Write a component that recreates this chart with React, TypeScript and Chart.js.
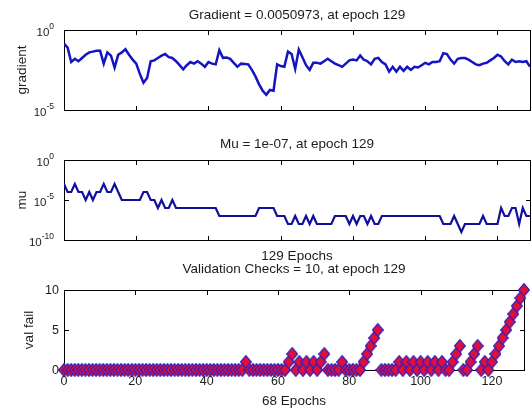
import { useEffect, useRef } from 'react';
import { Chart, registerables } from 'chart.js';

Chart.register(...registerables);

// ---------- data ----------
const epochs: number[] = Array.from({ length: 130 }, (_, i) => i);

const gradient: number[] = [
  0.141, 0.079, 0.01, 0.0158, 0.0112, 0.0178, 0.0282, 0.0398, 0.0447, 0.0501,
  0.0501, 0.0079, 0.0398, 0.0251, 0.0045, 0.0282, 0.0398, 0.0631, 0.0282, 0.0141,
  0.0079, 0.0018, 0.0005, 0.001, 0.0112, 0.0126, 0.0178, 0.0251, 0.0316, 0.02,
  0.0178, 0.0112, 0.0063, 0.0035, 0.0063, 0.01, 0.0079, 0.0112, 0.0079, 0.005,
  0.01, 0.0079, 0.0071, 0.055, 0.0182, 0.019, 0.0158, 0.0089, 0.005, 0.0079,
  0.0076, 0.0071, 0.0032, 0.00126, 0.0004, 0.00016, 0.000089, 0.00018, 0.00016, 0.0071,
  0.0056, 0.005, 0.0447, 0.0316, 0.0037, 0.06, 0.02, 0.0063, 0.0032, 0.0089,
  0.0089, 0.0079, 0.0112, 0.0158, 0.0112, 0.0079, 0.0063, 0.005, 0.0079, 0.0126,
  0.0141, 0.0126, 0.0251, 0.0138, 0.0112, 0.0071, 0.0158, 0.0182, 0.01, 0.0071,
  0.0025, 0.005, 0.0025, 0.005, 0.0028, 0.005, 0.0032, 0.005, 0.0045, 0.0063,
  0.0089, 0.0071, 0.01, 0.01, 0.0112, 0.0355, 0.0316, 0.0141, 0.0079, 0.0158,
  0.0178, 0.0178, 0.0141, 0.01, 0.0071, 0.0063, 0.0079, 0.0089, 0.0126, 0.0178,
  0.0282, 0.0224, 0.0112, 0.0071, 0.0141, 0.01, 0.0112, 0.01, 0.0112, 0.0050973,
];

const mu: number[] = [
  1e-3, 1e-4, 1e-4, 1e-3, 1e-4, 1e-4, 1e-5, 1e-4, 1e-5, 1e-4,
  1e-4, 1e-3, 1e-4, 1e-4, 1e-3, 1e-4, 1e-5, 1e-5, 1e-5, 1e-5,
  1e-5, 1e-5, 1e-4, 1e-4, 1e-5, 1e-5, 1e-6, 1e-5, 1e-6, 1e-6,
  1e-5, 1e-6, 1e-6, 1e-6, 1e-6, 1e-6, 1e-6, 1e-6, 1e-6, 1e-6,
  1e-6, 1e-6, 1e-6, 1e-7, 1e-7, 1e-7, 1e-7, 1e-7, 1e-7, 1e-7,
  1e-7, 1e-7, 1e-7, 1e-7, 1e-6, 1e-6, 1e-6, 1e-6, 1e-6, 1e-7,
  1e-7, 1e-7, 1e-8, 1e-8, 1e-7, 1e-8, 1e-8, 1e-7, 1e-8, 1e-7,
  1e-8, 1e-8, 1e-8, 1e-8, 1e-8, 1e-7, 1e-7, 1e-7, 1e-7, 1e-8,
  1e-7, 1e-8, 1e-7, 1e-7, 1e-8, 1e-7, 1e-8, 1e-8, 1e-7, 1e-7,
  1e-7, 1e-7, 1e-7, 1e-7, 1e-7, 1e-7, 1e-7, 1e-7, 1e-7, 1e-7,
  1e-7, 1e-7, 1e-7, 1e-7, 1e-7, 1e-8, 1e-8, 1e-8, 1e-7, 1e-8,
  1e-9, 1e-8, 1e-8, 1e-8, 1e-8, 1e-8, 1e-7, 1e-8, 1e-8, 1e-8,
  1e-8, 1e-6, 1e-7, 1e-7, 1e-6, 1e-6, 1e-8, 1e-6, 1e-7, 1e-7,
];

const valFail: number[] = [
  0, 0, 0, 0, 0, 0, 0, 0, 0, 0,
  0, 0, 0, 0, 0, 0, 0, 0, 0, 0,
  0, 0, 0, 0, 0, 0, 0, 0, 0, 0,
  0, 0, 0, 0, 0, 0, 0, 0, 0, 0,
  0, 0, 0, 0, 0, 0, 0, 0, 0, 0,
  0, 1, 0, 0, 0, 0, 0, 0, 0, 0,
  0, 0, 0, 1, 2, 0, 1, 0, 1, 0,
  1, 0, 1, 2, 0, 0, 0, 0, 1, 0,
  0, 0, 0, 0, 1, 2, 3, 4, 5, 0,
  0, 0, 0, 0, 1, 0, 1, 0, 1, 0,
  1, 0, 1, 0, 1, 0, 1, 0, 0, 1,
  2, 3, 0, 0, 1, 2, 3, 0, 1, 0,
  1, 2, 3, 4, 5, 6, 7, 8, 9, 10,
];

const xTickValues: number[] = [0, 20, 40, 60, 80, 100, 120];
const xTickLabels: string[] = ['0', '20', '40', '60', '80', '100', '120'];

const gradTickValues: number[] = [1, 1e-5];
const gradTickExps: string[] = ['0', '-5'];
const muTickValues: number[] = [1, 1e-5, 1e-10];
const muTickExps: string[] = ['0', '-5', '-10'];
const valTickValues: number[] = [0, 5, 10];
const valTickLabels: string[] = ['0', '5', '10'];

const titles: string[] = [
  'Gradient = 0.0050973, at epoch 129',
  'Mu = 1e-07, at epoch 129',
  'Validation Checks = 10, at epoch 129',
];
const yLabels: string[] = ['gradient', 'mu', 'val fail'];
const xLabels: string[] = ['', '129 Epochs', '68 Epochs'];

// ---------- drawing helpers ----------
const FONT = "'Liberation Sans', Arial, Helvetica, sans-serif";
const TEXT = '#1c1c1c';

function diamondMarker(): HTMLCanvasElement {
  const c = document.createElement('canvas');
  c.width = 12;
  c.height = 14;
  const g = c.getContext('2d') as CanvasRenderingContext2D;
  g.beginPath();
  g.moveTo(6, 0.7);
  g.lineTo(11.3, 7);
  g.lineTo(6, 13.3);
  g.lineTo(0.7, 7);
  g.closePath();
  g.fillStyle = '#e30d3a';
  g.fill();
  g.strokeStyle = '#3a20b8';
  g.lineWidth = 1.3;
  g.stroke();
  return c;
}

type Decor = {
  title: string;
  titleY: number;
  yLabel: string;
  yLabelX: number;
  xLabel?: string;
  xLabelY?: number;
  yTicks: number[];
  yTickText?: string[];
  yTickExp?: string[];
  showXTickLabels?: boolean;
  xTickLabelY?: number;
};

function decorPlugin(d: Decor) {
  return {
    id: 'decor',
    beforeDatasetsDraw(chart: any) {
      const { ctx, chartArea: a, scales } = chart;
      ctx.save();
      ctx.strokeStyle = '#000';
      ctx.lineWidth = 1;
      ctx.strokeRect(a.left + 0.5, a.top + 0.5, a.right - a.left, a.bottom - a.top);
      const tl = 5;
      ctx.beginPath();
      xTickValues.forEach((v) => {
        const px = Math.round(scales.x.getPixelForValue(v)) + 0.5;
        ctx.moveTo(px, a.top);
        ctx.lineTo(px, a.top + tl);
        ctx.moveTo(px, a.bottom + 1);
        ctx.lineTo(px, a.bottom + 1 - tl);
      });
      d.yTicks.forEach((v) => {
        const py = Math.round(scales.y.getPixelForValue(v)) + 0.5;
        if (py < a.top + 2 || py > a.bottom - 1) return;
        ctx.moveTo(a.left, py);
        ctx.lineTo(a.left + tl, py);
        ctx.moveTo(a.right + 1, py);
        ctx.lineTo(a.right + 1 - tl, py);
      });
      ctx.stroke();
      ctx.restore();
    },
    afterDraw(chart: any) {
      const { ctx, chartArea: a, scales } = chart;
      ctx.save();
      ctx.fillStyle = TEXT;
      const cx = (a.left + a.right) / 2;
      ctx.font = `13.5px ${FONT}`;
      ctx.textAlign = 'center';
      ctx.textBaseline = 'alphabetic';
      ctx.fillText(d.title, cx, d.titleY);
      if (d.xLabel) ctx.fillText(d.xLabel, cx, d.xLabelY as number);
      ctx.save();
      ctx.translate(d.yLabelX, (a.top + a.bottom) / 2);
      ctx.rotate(-Math.PI / 2);
      ctx.textBaseline = 'middle';
      ctx.fillText(d.yLabel, 0, 0);
      ctx.restore();
      d.yTicks.forEach((v, i) => {
        const py = scales.y.getPixelForValue(v);
        if (d.yTickExp) {
          const exp = d.yTickExp[i];
          ctx.font = `8.5px ${FONT}`;
          const ew = ctx.measureText(exp).width;
          const right = 54;
          ctx.textAlign = 'left';
          ctx.textBaseline = 'middle';
          ctx.fillText(exp, right - ew, py - 3);
          ctx.font = `11.5px ${FONT}`;
          ctx.textAlign = 'right';
          ctx.fillText('10', right - ew, py + 3);
        } else if (d.yTickText) {
          ctx.font = `12.5px ${FONT}`;
          ctx.textAlign = 'right';
          ctx.textBaseline = 'middle';
          ctx.fillText(d.yTickText[i], 59, py + 1);
        }
      });
      if (d.showXTickLabels) {
        ctx.font = `12.5px ${FONT}`;
        ctx.textAlign = 'center';
        ctx.textBaseline = 'middle';
        xTickValues.forEach((v, i) => {
          ctx.fillText(xTickLabels[i], scales.x.getPixelForValue(v), d.xTickLabelY as number);
        });
      }
      ctx.restore();
    },
  };
}

function makeConfig(dataset: any, yScale: any, padBottom: number, decor: Decor): any {
  return {
    type: 'line',
    data: { datasets: [dataset] },
    options: {
      animation: false,
      responsive: false,
      devicePixelRatio: 1,
      layout: { padding: { left: 64, right: 1, top: 30, bottom: padBottom } },
      plugins: { legend: { display: false }, tooltip: { enabled: false }, title: { display: false } },
      scales: {
        x: { type: 'linear', min: 0, max: 129, display: false },
        y: { ...yScale, display: false },
      },
    },
    plugins: [decorPlugin(decor)],
  };
}

export default function App() {
  const c1 = useRef<HTMLCanvasElement>(null);
  const c2 = useRef<HTMLCanvasElement>(null);
  const c3 = useRef<HTMLCanvasElement>(null);

  useEffect(() => {
    const gradPts = epochs.map((e, i) => ({ x: e, y: gradient[i] }));
    const muPts = epochs.map((e, i) => ({ x: e, y: mu[i] }));
    const valPts = epochs.map((e, i) => ({ x: e, y: valFail[i] }));

    const ch1 = new Chart(
      c1.current as HTMLCanvasElement,
      makeConfig(
        { data: gradPts, borderColor: '#1414c0', borderWidth: 2.5, pointRadius: 0, tension: 0 },
        { type: 'logarithmic', min: 1e-5, max: 1 },
        20,
        {
          title: titles[0],
          titleY: 19,
          yLabel: yLabels[0],
          yLabelX: 22,
          yTicks: gradTickValues,
          yTickExp: gradTickExps,
        }
      )
    );
    const ch2 = new Chart(
      c2.current as HTMLCanvasElement,
      makeConfig(
        { data: muPts, borderColor: '#10109c', borderWidth: 2.2, pointRadius: 0, tension: 0 },
        { type: 'logarithmic', min: 1e-10, max: 1 },
        30,
        {
          title: titles[1],
          titleY: 18,
          yLabel: yLabels[1],
          yLabelX: 22,
          xLabel: xLabels[1],
          xLabelY: 130,
          yTicks: muTickValues,
          yTickExp: muTickExps,
        }
      )
    );
    const ch3 = new Chart(
      c3.current as HTMLCanvasElement,
      makeConfig(
        {
          data: valPts,
          showLine: false,
          clip: false,
          pointStyle: diamondMarker(),
          pointRadius: 6,
        },
        { type: 'linear', min: 0, max: 10 },
        40,
        {
          title: titles[2],
          titleY: 13,
          yLabel: yLabels[2],
          yLabelX: 29,
          xLabel: xLabels[2],
          xLabelY: 145,
          yTicks: valTickValues,
          yTickText: valTickLabels,
          showXTickLabels: true,
          xTickLabelY: 122,
        }
      )
    );
    return () => {
      ch1.destroy();
      ch2.destroy();
      ch3.destroy();
    };
  }, []);

  const cs = (top: number, h: number): any => ({
    position: 'absolute',
    left: 0,
    top,
    width: 531,
    height: h,
  });

  return (
    <div
      style={{
        position: 'fixed',
        left: 0,
        top: 0,
        width: 531,
        height: 410,
        background: '#fff',
        overflow: 'hidden',
      }}
    >
      <canvas ref={c1} width={531} height={130} style={cs(0, 130)} />
      <canvas ref={c2} width={531} height={140} style={cs(130, 140)} />
      <canvas ref={c3} width={531} height={150} style={cs(260, 150)} />
    </div>
  );
}
